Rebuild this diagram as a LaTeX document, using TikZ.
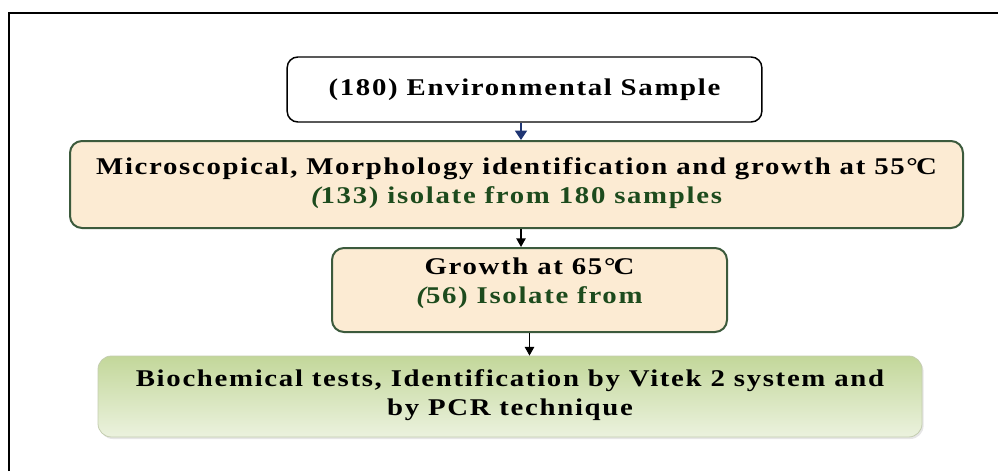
\documentclass[tikz,border=0pt]{standalone}
\usepackage{fontspec}
\setmainfont{Liberation Serif}[LetterSpace=7, FakeStretch=1.2]
\usepackage{tikz}
\usetikzlibrary{positioning,calc,arrows.meta,shadows}

\definecolor{framegreen}{HTML}{3C5A3C}
\definecolor{countgreen}{HTML}{1D4B1D}
\definecolor{sandfill}{HTML}{FCEBD3}
\definecolor{arrowblue}{HTML}{1F3573}
\definecolor{leafdark}{HTML}{C3D79A}
\definecolor{leaflight}{HTML}{EBF2DE}

% degree sign set close to the C
\newcommand{\degC}{\textdegree\kern-0.08em C}

\tikzset{
  label font/.style={font=\fontsize{18pt}{21.5pt}\selectfont\bfseries, align=center},
  samplebox/.style={label font, draw=black, line width=1.1pt, rounded corners=8pt, fill=white},
  stagebox/.style={label font, draw=framegreen, line width=1.5pt, rounded corners=9pt, fill=sandfill},
  resultbox/.style={label font, draw=leafdark!80!black!60, line width=0.6pt, rounded corners=10pt,
    top color=leafdark, bottom color=leaflight,
    drop shadow={opacity=0.2, shadow xshift=1.2pt, shadow yshift=-1.5pt}},
  flow/.style={line width=1.1pt, -{Triangle[width=7pt,length=6.5pt]}},
}

\begin{document}
\begin{tikzpicture}[x=0.75pt, y=-0.75pt]
  \useasboundingbox (0,0) rectangle (998,471);

  % outer frame, cut by the page edge
  \draw [line width=1.6pt] (9,471) -- (9,13) -- (998,13);

  \node [samplebox, minimum width=356pt, minimum height=48.75pt] (sample)
    at (524.5,89.5) {(180) Environmental Sample};

  \node [stagebox, minimum width=669.75pt, minimum height=65.25pt, text depth=6pt] (micro)
    at (516.5,184.5)
    {Microscopical, Morphology identification and growth at 55\degC\\
     \textcolor{countgreen}{{\itshape(}133) isolate from 180 samples}};

  \node [stagebox, minimum width=296.25pt, minimum height=63pt, text depth=14pt] (growth)
    at (529.5,290)
    {Growth at 65\degC\\
     \textcolor{countgreen}{{\itshape(}56) Isolate from}};

  \node [resultbox, minimum width=618pt, minimum height=60.75pt, text depth=6pt] (tests)
    at (510,396.5)
    {Biochemical tests, Identification by Vitek 2 system and\\
     by PCR technique};

  % arrows between the stages
  \draw [flow, arrowblue, -{Triangle[width=9pt,length=7pt]}]
    ($(sample.south)+(-3.5,0)$) -- ($(sample.south |- micro.north)+(-3.5,0)$);
  \draw [flow] ($(micro.south)+(4.5,0)$) -- ($(micro.south |- growth.north)+(4.5,0)$);
  \draw [flow] (growth.south) -- (growth.south |- tests.north);
\end{tikzpicture}
\end{document}
